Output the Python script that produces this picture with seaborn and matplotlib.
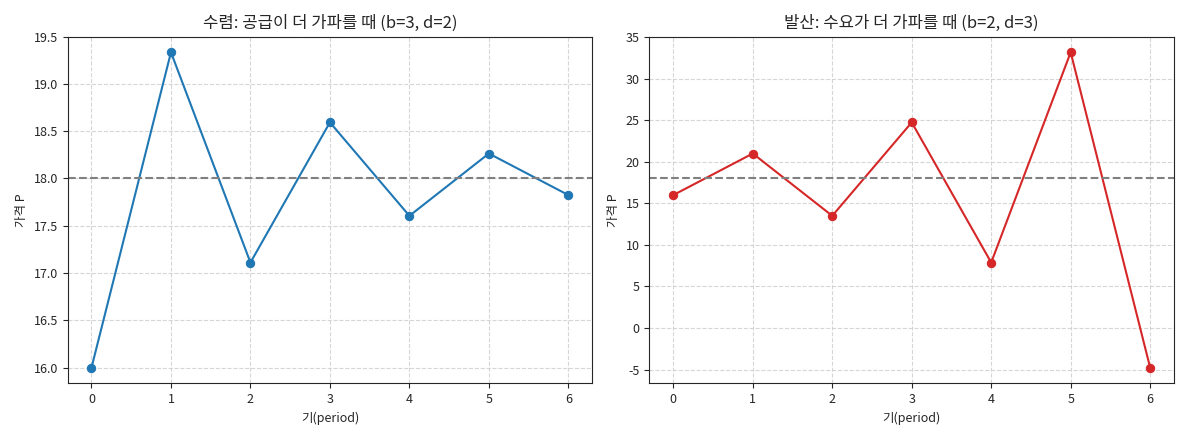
import matplotlib
import matplotlib.pyplot as plt
import pandas as pd
import seaborn as sns

matplotlib.use("Agg")

periods = [0, 1, 2, 3, 4, 5, 6]
price_converge = [16.0, 19.3333, 17.1111, 18.5926, 17.6049, 18.2634, 17.8244]
price_diverge = [16.0, 21.0, 13.5, 24.75, 7.875, 33.1875, -4.7813]
equilibrium = 18.0

titles = ["수렴: 공급이 더 가파를 때 (b=3, d=2)", "발산: 수요가 더 가파를 때 (b=2, d=3)"]
colors = ["#1f77b4", "#d62728"]

sns.set_style("ticks")
plt.rcParams["font.family"] = ["Noto Sans CJK KR", "DejaVu Sans"]
plt.rcParams["axes.unicode_minus"] = False

fig, axes = plt.subplots(1, 2, figsize=(11.89, 4.4), dpi=100)

for ax, prices, title, color in zip(axes, [price_converge, price_diverge], titles, colors):
    df = pd.DataFrame({"period": periods, "price": prices})
    sns.lineplot(data=df, x="period", y="price", marker="o", color=color,
                 markeredgecolor=color, markersize=6, linewidth=1.5, ax=ax)
    ax.axhline(equilibrium, color="gray", linestyle="--", linewidth=1.5)
    ax.set_title(title, fontsize=12)
    ax.set_xlabel("기(period)", fontsize=9)
    ax.set_ylabel("가격 P", fontsize=9)
    ax.tick_params(labelsize=9)
    ax.grid(True, linestyle="--", color="#cccccc", alpha=0.8)

axes[0].set_ylim(15.8333, 19.5)

plt.tight_layout()
plt.savefig("out.png")
